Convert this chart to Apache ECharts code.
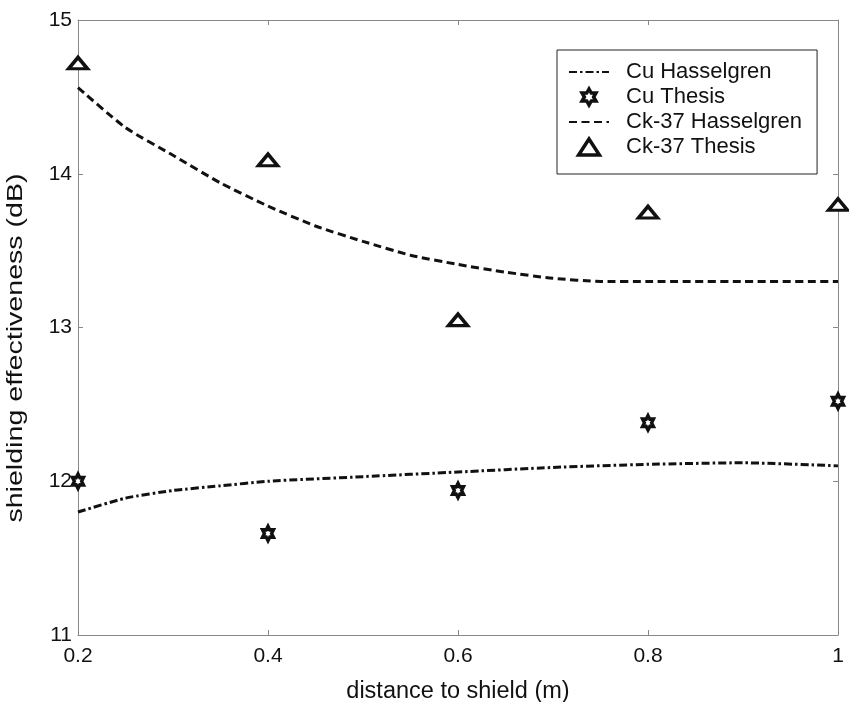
<!DOCTYPE html>
<html>
<head>
<meta charset="utf-8">
<script src="https://cdn.jsdelivr.net/npm/echarts@6/dist/echarts.min.js"></script>
<style>
html,body{margin:0;padding:0;background:#fff;}
#chart{width:849px;height:702px;}
</style>
</head>
<body>
<div id="chart"></div>
<script>
// ---- data ----
const cuHassX = [0.20, 0.25, 0.30, 0.35, 0.40, 0.50, 0.60, 0.70, 0.80, 0.90, 1.00];
const cuHassY = [11.80, 11.89, 11.94, 11.97, 12.00, 12.03, 12.06, 12.09, 12.11, 12.12, 12.10];

const ckHassX = [0.20, 0.25, 0.30, 0.35, 0.40, 0.45, 0.50, 0.55, 0.60, 0.65, 0.70, 0.75, 0.80, 0.90, 1.00];
const ckHassY = [14.56, 14.30, 14.12, 13.94, 13.79, 13.66, 13.56, 13.47, 13.41, 13.36, 13.32, 13.30, 13.30, 13.30, 13.30];

const thesisX = [0.2, 0.4, 0.6, 0.8, 1.0];
const cuThesisY = [12.00, 11.66, 11.94, 12.38, 12.52];
const ckThesisY = [14.72, 14.09, 13.05, 13.75, 13.80];

const seriesNames = ['Cu Hasselgren', 'Cu Thesis', 'Ck-37 Hasselgren', 'Ck-37 Thesis'];
const xTitle = 'distance to shield (m)';
const yTitle = 'shielding effectiveness (dB)';

const zip = (xs, ys) => xs.map((x, i) => [x, ys[i]]);
const hexagram = 'path://M0,-10 L2.885,-5 L8.66,-5 L5.77,0 L8.66,5 L2.885,5 L0,10 L-2.885,5 L-8.66,5 L-5.77,0 L-8.66,-5 L-2.885,-5 Z';
const triangle = 'path://M0,0 L6.5,-10 L13,0 Z';

const FONT = 'Liberation Sans, Arial, sans-serif';
const TXT = '#111';
const axisLineStyle = { color: '#888', width: 1 };
const hidden = { color: 'rgba(0,0,0,0)', borderColor: 'rgba(0,0,0,0)', borderWidth: 0, opacity: 0 };

const chart = echarts.init(document.getElementById('chart'), null, { renderer: 'canvas' });

const fmtX = v => String(Math.round(v * 10) / 10);

chart.setOption({
  backgroundColor: '#fff',
  animation: false,
  grid: { left: 78, right: 11, top: 20, bottom: 67, containLabel: false, outerBoundsMode: 'none' },
  graphic: [{
    type: 'text',
    x: 16, y: 348,
    rotation: Math.PI / 2,
    scaleX: 1.3,
    style: {
      text: yTitle,
      font: '22px ' + FONT,
      fill: TXT,
      align: 'center',
      verticalAlign: 'middle'
    },
    silent: true
  }],
  legend: {
    orient: 'vertical',
    left: 557,
    top: 50,
    backgroundColor: '#fff',
    borderColor: '#222',
    borderWidth: 1,
    borderRadius: 0,
    padding: [11, 15, 16, 11],
    itemWidth: 40,
    itemHeight: 16,
    itemGap: 3,
    textStyle: { fontFamily: FONT, fontSize: 22, color: TXT, lineHeight: 22, padding: [0, 0, 0, 12] },
    data: [
      { name: seriesNames[0], itemStyle: hidden },
      { name: seriesNames[1], itemStyle: { color: '#fff', borderColor: '#111', borderWidth: 3.5 } },
      { name: seriesNames[2], itemStyle: hidden },
      { name: seriesNames[3], itemStyle: { color: '#fff', borderColor: '#111', borderWidth: 3.5 } }
    ]
  },
  xAxis: [{
    type: 'value',
    min: 0.2, max: 1, interval: 0.2,
    name: xTitle,
    nameLocation: 'middle',
    nameGap: 45,
    nameTextStyle: { fontFamily: FONT, fontSize: 23.5, color: TXT },
    axisLine: { show: true, onZero: false, lineStyle: axisLineStyle },
    axisTick: { show: true, inside: true, length: 5, lineStyle: axisLineStyle },
    axisLabel: { fontFamily: FONT, fontSize: 21, color: TXT, margin: 11, formatter: fmtX },
    splitLine: { show: false }
  }, {
    type: 'value', position: 'top',
    min: 0.2, max: 1, interval: 0.2,
    axisLine: { show: true, onZero: false, lineStyle: axisLineStyle },
    axisTick: { show: true, inside: true, length: 5, lineStyle: axisLineStyle },
    axisLabel: { show: false },
    splitLine: { show: false }
  }],
  yAxis: [{
    type: 'value',
    min: 11, max: 15, interval: 1,
    axisLine: { show: true, onZero: false, lineStyle: axisLineStyle },
    axisTick: { show: true, inside: true, length: 5, lineStyle: axisLineStyle },
    axisLabel: { fontFamily: FONT, fontSize: 21, color: TXT, margin: 6 },
    splitLine: { show: false }
  }, {
    type: 'value', position: 'right',
    min: 11, max: 15, interval: 1,
    axisLine: { show: true, onZero: false, lineStyle: axisLineStyle },
    axisTick: { show: true, inside: true, length: 5, lineStyle: axisLineStyle },
    axisLabel: { show: false },
    splitLine: { show: false }
  }],
  series: [
    {
      name: seriesNames[0],
      type: 'line',
      data: zip(cuHassX, cuHassY),
      showSymbol: false, symbol: 'none',
      smooth: 0.2,
      color: '#111',
      lineStyle: { color: '#111', width: 3, type: [8, 3, 2.5, 3] },
      z: 2
    },
    {
      name: seriesNames[1],
      type: 'scatter',
      data: zip(thesisX, cuThesisY),
      symbol: hexagram,
      symbolSize: [12.5, 14.5],
      symbolKeepAspect: true,
      itemStyle: { color: '#fff', borderColor: '#111', borderWidth: 3.5, opacity: 1 },
      z: 3
    },
    {
      name: seriesNames[2],
      type: 'line',
      data: zip(ckHassX, ckHassY),
      showSymbol: false, symbol: 'none',
      smooth: 0.2,
      color: '#111',
      lineStyle: { color: '#111', width: 3, type: [8, 4.5] },
      z: 2
    },
    {
      name: seriesNames[3],
      type: 'scatter',
      data: zip(thesisX, ckThesisY),
      symbol: triangle,
      symbolSize: [19, 15],
      symbolKeepAspect: true,
      itemStyle: { color: '#fff', borderColor: '#111', borderWidth: 3.5, opacity: 1 },
      z: 3
    }
  ]
});
</script>
</body>
</html>
